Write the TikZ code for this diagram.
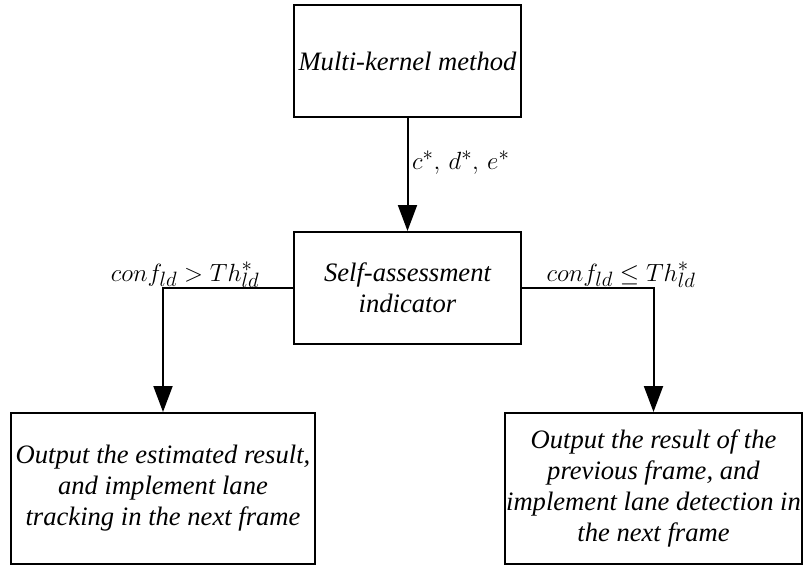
\documentclass[tikz,border=0pt]{standalone}
\usepackage{fontspec}
\setmainfont{Liberation Serif}[ItalicFont={Liberation Serif Italic},BoldFont={Liberation Serif Bold}]
\newfontfamily\boxfont{Liberation Serif Italic}
\usetikzlibrary{arrows.meta}
\begin{document}
\begin{tikzpicture}[x=1pt,y=-1pt,
  box/.style={draw=black,line width=2pt,align=center,inner sep=0pt,
    font=\boxfont\fontsize{26.6}{31}\selectfont},
  arr/.style={line width=2pt,-{Triangle[length=26pt,width=19pt]}},
  lab/.style={inner sep=0pt,font=\fontsize{28.5}{31}\selectfont}]
\useasboundingbox (0,0) rectangle (805,567);
\node[box,minimum width=227pt,minimum height=112pt] (top) at (407.5,61) {Multi-kernel method};
\node[box,minimum width=227pt,minimum height=112pt] (mid) at (407.5,288) {Self-assessment\\indicator};
\node[box,minimum width=304pt,minimum height=151pt] (bl) at (163,488.5) {Output the estimated result,\\and implement lane\\tracking in the next frame};
\node[box,minimum width=297pt,minimum height=151pt] (br) at (653.5,488.5) {Output the result of the\\previous frame, and\\implement lane detection in\\the next frame};
\draw[arr] (top) -- (mid);
\draw[arr] (mid.west) -| (bl.north);
\draw[arr] (mid.east) -| (br.north);
\node[lab,anchor=west] (l1) at (412,163) {$c^*,\,d^*,\,e^*$};
\node[lab,anchor=base] (l2) at (185,281) {$conf_{ld}>Th^*_{ld}$};
\node[lab,anchor=base] (l3) at (621,281) {$conf_{ld}\leq Th^*_{ld}$};
\end{tikzpicture}
\end{document}
